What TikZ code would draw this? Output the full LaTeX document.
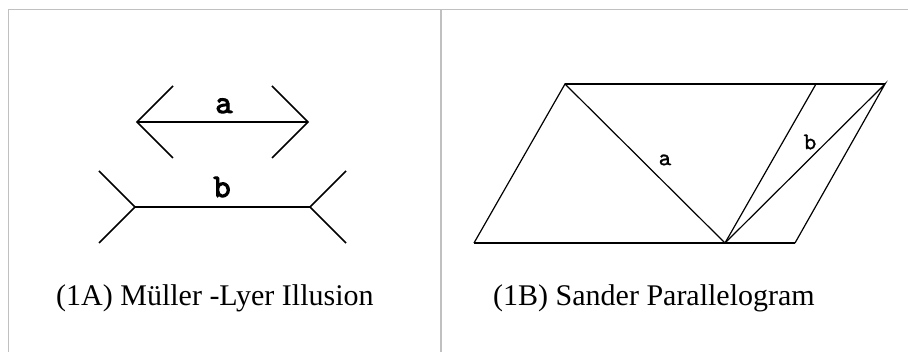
\documentclass[tikz,border=0pt]{standalone}
\usepackage{fontspec}
\setmainfont{Liberation Serif}
\newfontfamily\boldtt[FakeBold=3]{lmmono10-regular.otf}
\newfontfamily\plaintt[FakeBold=1.2]{lmmono10-regular.otf}
\usetikzlibrary{calc}
\usetikzlibrary{positioning}
\definecolor{framegray}{RGB}{192,192,192}
\tikzstyle{frame} = [draw=framegray, line width=1.4pt]
\tikzstyle{shaft} = [draw=black, line width=2.2pt]
\tikzstyle{fin} = [draw=black, line width=1.6pt]
\tikzstyle{side} = [draw=black, line width=1.2pt]
\tikzstyle{base} = [draw=black, line width=2pt]
\tikzstyle{mllabel} = [font=\fontsize{33}{33}\selectfont\boldtt, inner sep=0pt]
\tikzstyle{splabel} = [font=\fontsize{24}{24}\selectfont\plaintt, inner sep=0pt]
\tikzstyle{caption} = [font=\fontsize{30}{32}\selectfont, anchor=base west, inner sep=0pt]

\begin{document}
\begin{tikzpicture}[x=1pt, y=-1pt]
    \useasboundingbox (0,0) rectangle (908,352);
    % table frame
    \coordinate (tl) at (8.5,9.5);
    \coordinate (tr) at (908,9.5);
    \coordinate (bl) at (8.5,352);
    \coordinate (mt) at (441,9.5);
    \coordinate (mb) at (441,352);
    \draw [frame] (bl) -- (tl) -- (tr);
    \draw [frame] (mt) -- (mb);

    % (1A) Mueller-Lyer
    \coordinate (a1) at (137,122);
    \coordinate (a2) at (308,122);
    \coordinate (b1) at (135,207);
    \coordinate (b2) at (310,207);
    \draw [shaft] (a1) -- (a2);
    \draw [shaft] (b1) -- (b2);
    \draw [fin] ($(a1)+(36,-36)$) -- (a1) -- ($(a1)+(36,36)$);
    \draw [fin] ($(a2)+(-36,-36)$) -- (a2) -- ($(a2)+(-36,36)$);
    \draw [fin] ($(b1)+(-36,-36)$) -- (b1) -- ($(b1)+(-36,36)$);
    \draw [fin] ($(b2)+(36,-36)$) -- (b2) -- ($(b2)+(36,36)$);
    \node (la) [mllabel, anchor=base] at (224,113) {a};
    \node (lb) [mllabel, anchor=base] at (222,197) {b};
    \node (capA) [caption] at (56,306) {(1A) Müller -Lyer Illusion};

    % (1B) Sander parallelogram
    \coordinate (p1) at (474,243);
    \coordinate (p2) at (725,243);
    \coordinate (p3) at (795,243);
    \coordinate (q1) at (565,84);
    \coordinate (q2) at (816,84);
    \coordinate (q3) at (885,84);
    \draw [base] (q1) -- (q3);
    \draw [base] (p1) -- (p3);
    \draw [side] (p1) -- (q1) -- (p2) -- (q2);
    \draw [side] (p2) -- (q3) -- (p3);
    \node (sa) [splabel] at (665,160) {a};
    \node (sb) [splabel] at (810,142) {b};
    \node (capB) [caption] at (493,306) {(1B) Sander Parallelogram};
\end{tikzpicture}
\end{document}
